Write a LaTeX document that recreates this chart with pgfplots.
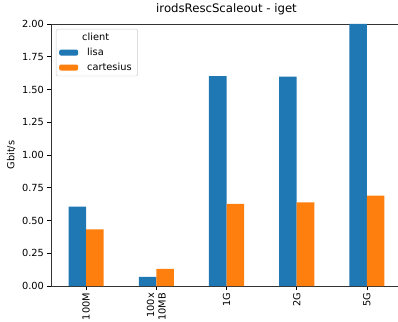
\documentclass[border=0pt]{standalone}
\usepackage{pgfplots}
\pgfplotsset{compat=1.18}
\usepackage{fontspec}
\setmainfont{DejaVu Sans}
\definecolor{mplblue}{HTML}{1F77B4}
\definecolor{mplorange}{HTML}{FF7F0E}
\pgfplotsset{mplpatch/.style={legend image code/.code={\fill[##1] (0pt,-3pt) rectangle (19pt,3pt);}}}
\begin{document}
\begin{tikzpicture}
\useasboundingbox (-51pt,-35pt) rectangle (347pt,286pt);
\begin{axis}[
  at={(0,0)}, anchor=south west,
  scale only axis, width=351pt, height=262pt,
  xmin=-0.5, xmax=4.5, ymin=0, ymax=2,
  xtick={0,1,2,3,4},
  xticklabels={100M,{100x\\10MB},1G,2G,5G},
  xticklabel style={rotate=90, anchor=east, align=right},
  ytick={0,0.25,...,2},
  yticklabel style={/pgf/number format/.cd, fixed, fixed zerofill, precision=2, assume math mode=true},
  xtick pos=lower, ytick pos=left, tick align=outside,
  major tick length=3.5pt,
  tick style={black, line width=0.6pt},
  axis line style={black!80, line width=0.6pt},
  tick label style={font=\fontsize{9.8}{11.5}\selectfont},
  label style={font=\fontsize{9.8}{11.5}\selectfont},
  title={irodsRescScaleout - iget},
  title style={font=\fontsize{11.7}{14}\selectfont},
  ylabel={Gbit/s},
  legend style={at={(0,1)}, anchor=north west, xshift=5pt, yshift=-5pt,
    draw=black!20, rounded corners=2pt, font=\fontsize{9.8}{11.5}\selectfont,
    row sep=2pt, nodes={inner xsep=3pt}},
  legend cell align=left,
]
\addlegendimage{empty legend}
\addlegendentry{\hspace*{1pt}client}
\addplot[ybar, fill=mplblue, draw=none, bar width=0.25, bar shift=-0.125, mplpatch]
  coordinates {(0,0.605) (1,0.069) (2,1.603) (3,1.598) (4,2.0)};
\addlegendentry{\hspace*{6pt}lisa}
\addplot[ybar, fill=mplorange, draw=none, bar width=0.25, bar shift=0.125, mplpatch]
  coordinates {(0,0.433) (1,0.130) (2,0.626) (3,0.639) (4,0.689)};
\addlegendentry{\hspace*{6pt}cartesius}
\end{axis}
\end{tikzpicture}
\end{document}
